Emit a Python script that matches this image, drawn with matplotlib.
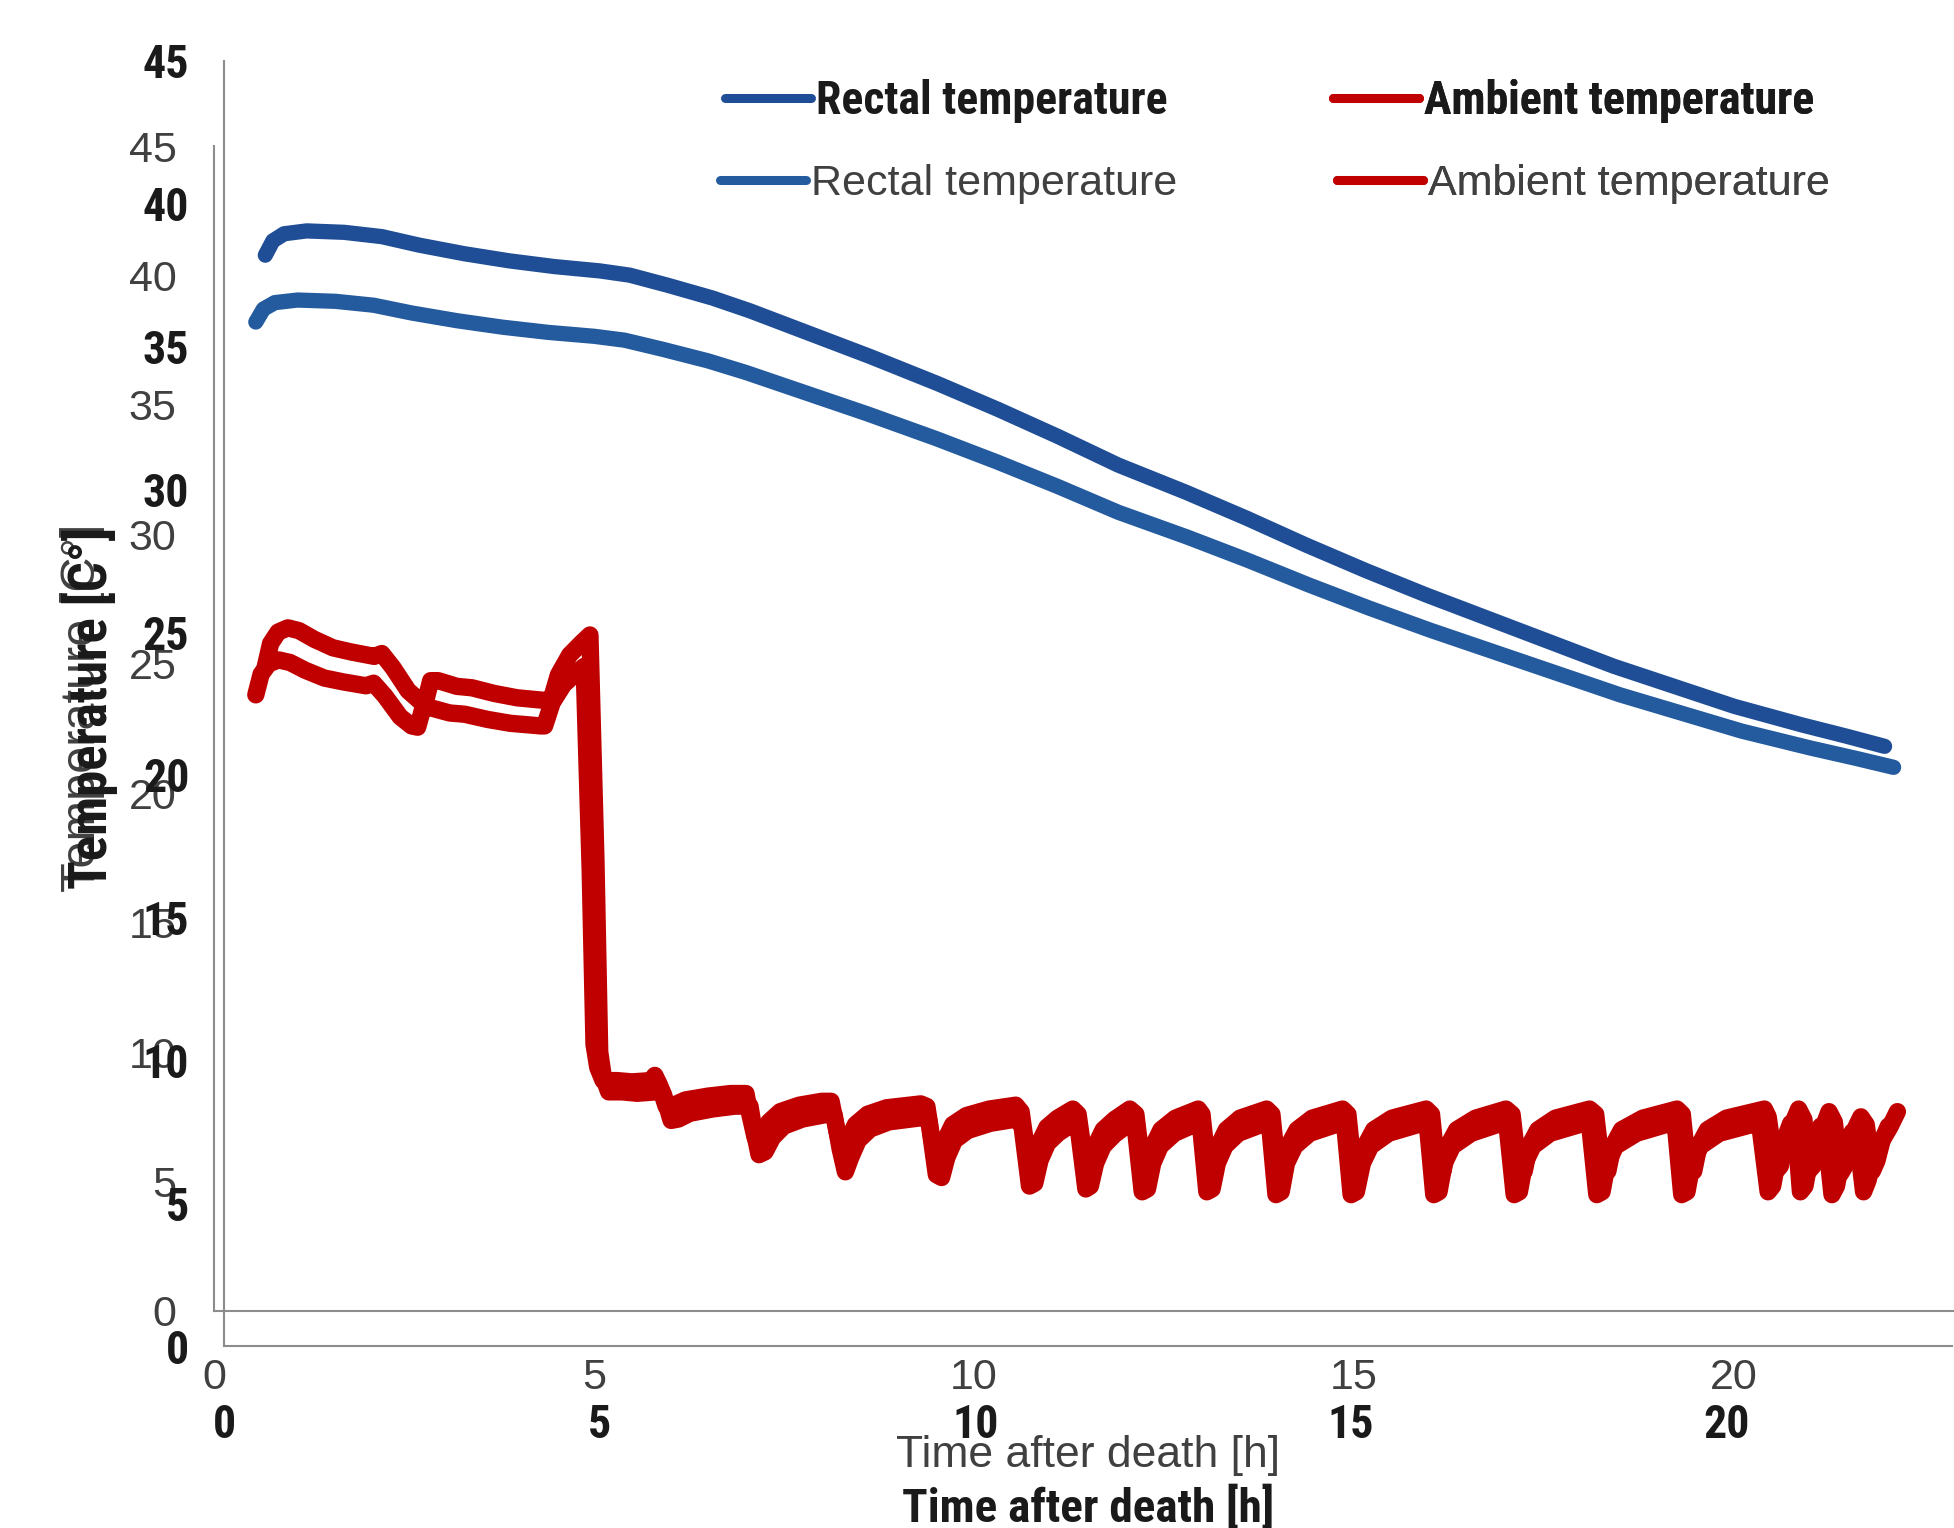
import matplotlib.pyplot as plt
from matplotlib import font_manager
from matplotlib.lines import Line2D

# rectal temperature (h after death, deg C)
rectal_h = [0.55, 0.65, 0.8, 1.1, 1.6, 2.1, 2.6, 3.2, 3.8, 4.4, 5.0, 5.4, 5.9, 6.5,
            7.0, 7.8, 8.6, 9.5, 10.3, 11.1, 11.9, 12.8, 13.6, 14.4, 15.2, 16.0,
            16.9, 17.7, 18.5, 19.3, 20.1, 21.0, 21.6, 22.1]
rectal_t = [38.2, 38.7, 38.95, 39.05, 39.0, 38.85, 38.55, 38.25, 38.0, 37.8, 37.65,
            37.5, 37.15, 36.7, 36.25, 35.45, 34.65, 33.7, 32.8, 31.85, 30.85, 29.9,
            29.0, 28.05, 27.15, 26.3, 25.4, 24.6, 23.8, 23.1, 22.4, 21.75, 21.35, 21.0]

# ambient temperature, first 6 hours
ambient_h = [0.55, 0.62, 0.72, 0.85, 1.0, 1.2, 1.45, 1.7, 2.0, 2.1, 2.25, 2.45, 2.6,
             2.68, 2.75, 2.85, 3.1, 3.3, 3.6, 3.9, 4.3, 4.35, 4.45, 4.6, 4.75, 4.87,
             4.95, 5.0, 5.05, 5.12, 5.3, 5.5, 5.75, 5.8, 5.85, 5.95, 6.05, 6.2, 6.5,
             6.8, 7.0]
ambient_t = [23.8, 24.6, 25.0, 25.15, 25.05, 24.75, 24.45, 24.3, 24.15, 24.25, 23.75,
             22.95, 22.6, 22.55, 23.3, 23.3, 23.1, 23.05, 22.85, 22.7, 22.6, 22.6, 23.5,
             24.2, 24.6, 24.9, 17.0, 10.3, 9.4, 8.9, 8.9, 8.85, 8.9, 9.1, 8.8, 7.9, 7.95,
             8.15, 8.3, 8.4, 8.4]
# cooling cycles afterwards: peak, trough and recovery points
ambient_h += [7.05, 7.12, 7.2, 7.3, 7.45, 7.7, 8.0, 8.12,
              8.2, 8.27, 8.34, 8.44, 8.6, 8.85, 9.3, 9.38,
              9.48, 9.55, 9.62, 9.72, 9.9, 10.2, 10.55, 10.62,
              10.72, 10.79, 10.86, 10.96, 11.1, 11.3, 11.37,
              11.47, 11.53, 11.6, 11.7, 11.85, 12.05, 12.13,
              12.22, 12.29, 12.36, 12.46, 12.65, 12.95, 13.0,
              13.08, 13.15, 13.22, 13.32, 13.5, 13.85, 13.92,
              14.0, 14.07, 14.14, 14.25, 14.45, 14.85, 14.92,
              15.0, 15.07, 15.15, 15.26, 15.5, 15.95, 16.02,
              16.1, 16.17, 16.24, 16.35, 16.6, 17.0, 17.08,
              17.17, 17.24, 17.31, 17.42, 17.65, 18.1, 18.18,
              18.27, 18.34, 18.41, 18.52, 18.8, 19.25, 19.32,
              19.4, 19.47, 19.54, 19.65, 19.9, 20.4, 20.45,
              20.55, 20.61, 20.68, 20.78, 20.85, 20.92,
              20.98, 21.04, 21.11, 21.2, 21.25, 21.32,
              21.4, 21.46, 21.53, 21.62, 21.67, 21.74,
              21.82, 21.88, 21.95, 22.05, 22.15]
ambient_t += [7.6, 6.7, 6.8, 7.3, 7.7, 7.95, 8.1, 8.1,
              6.9, 6.1, 6.6, 7.2, 7.6, 7.85, 8.0, 7.9,
              6.0, 5.9, 6.6, 7.2, 7.55, 7.8, 7.95, 7.7,
              5.6, 5.7, 6.5, 7.1, 7.45, 7.8, 7.6,
              5.5, 5.6, 6.4, 7.0, 7.4, 7.8, 7.6,
              5.4, 5.5, 6.4, 7.0, 7.45, 7.8, 7.6,
              5.4, 5.5, 6.4, 7.0, 7.45, 7.8, 7.6,
              5.3, 5.4, 6.4, 7.0, 7.45, 7.8, 7.6,
              5.3, 5.4, 6.4, 7.0, 7.45, 7.8, 7.6,
              5.3, 5.4, 6.4, 7.0, 7.45, 7.8, 7.6,
              5.3, 5.4, 6.4, 7.0, 7.45, 7.8, 7.6,
              5.3, 5.4, 6.4, 7.0, 7.45, 7.8, 7.6,
              5.3, 5.4, 6.4, 7.0, 7.45, 7.8, 7.5,
              5.4, 5.6, 6.6, 7.3, 7.8, 7.4,
              5.4, 5.6, 6.6, 7.3, 7.7, 7.3,
              5.3, 5.6, 6.6, 7.2, 7.5, 7.2,
              5.4, 5.8, 6.6, 7.1, 7.7]

x_ticks = [0, 5, 10, 15, 20]
y_ticks = [0, 5, 10, 15, 20, 25, 30, 35, 40, 45]
labels = ["Rectal temperature", "Ambient temperature"]

available = {f.name for f in font_manager.fontManager.ttflist}
bold_font, bold_size = "Liberation Sans", 29
for name, size in [("Liberation Sans Narrow", 34), ("Roboto Condensed", 33),
                   ("Arial Narrow", 34)]:
    if name in available:
        bold_font, bold_size = name, size
        break
reg_font, reg_size = "Liberation Sans", 31

W, H = 1954, 1528
fig = plt.figure(figsize=(W / 100, H / 100), dpi=100)

# the picture is two copies of the same chart laid over each other
copies = [
    dict(rect=[214 / W, (H - 1311) / H, 23 * 76.0 / W, 1165 / H],
         font=reg_font, size=reg_size, weight="normal", color="#404040",
         blue="#245a9e", ypad=27, xpad=34, xlab=(0.5, -0.124),
         ylab=(-0.0755, 0.5176), ylab_size=reg_size + 4,
         leg_y=1 - 184 / H, leg_x=(720 / W, 1337 / W)),
    dict(rect=[224 / W, (H - 1346) / H, 23 * 75.14 / W, 1285 / H],
         font=bold_font, size=bold_size, weight="bold", color="#1a1a1a",
         blue="#1f4e96", ypad=25, xpad=41, xlab=(0.5, -0.126),
         ylab=(-0.0775, 0.4965), ylab_size=bold_size + 5,
         leg_y=1 - 101 / H, leg_x=(725 / W, 1333 / W)),
]

for c in copies:
    ax = fig.add_axes(c["rect"])
    ax.patch.set_alpha(0)
    ax.plot(rectal_h, rectal_t, color=c["blue"], lw=11,
            solid_capstyle="round", solid_joinstyle="round")
    ax.plot(ambient_h, ambient_t, color="#c00000", lw=12.5,
            solid_capstyle="round", solid_joinstyle="round")
    ax.set_xlim(0, 23)
    ax.set_ylim(0, 45)
    ax.set_xticks(x_ticks)
    ax.set_yticks(y_ticks)
    for s in ["top", "right"]:
        ax.spines[s].set_visible(False)
    for s in ["left", "bottom"]:
        ax.spines[s].set_color("#8c8c8c")
        ax.spines[s].set_linewidth(1.5)
    ax.tick_params(axis="both", length=0, labelcolor=c["color"])
    ax.tick_params(axis="y", pad=c["ypad"])
    ax.tick_params(axis="x", pad=c["xpad"])
    for lab in ax.get_xticklabels() + ax.get_yticklabels():
        lab.set_fontfamily(c["font"])
        lab.set_fontsize(c["size"])
        lab.set_fontweight(c["weight"])
    fp = dict(family=c["font"], weight=c["weight"], color=c["color"])
    ax.set_xlabel("Time after death [h]", size=c["size"] + 1, **fp)
    ax.xaxis.set_label_coords(*c["xlab"])
    ax.xaxis.label.set_va("center")
    ax.set_ylabel("Temperature [C°]", size=c["ylab_size"], **fp)
    ax.yaxis.set_label_coords(*c["ylab"])
    ax.yaxis.label.set_va("center")

    # one legend per entry so each handle sits where the reference has it
    hl = 86 / (c["size"] * 100 / 72)
    colors = [c["blue"], "#c00000"]
    for i, (lbl, col) in enumerate(zip(labels, colors)):
        h = Line2D([], [], color=col, lw=6.5, solid_capstyle="round")
        leg = ax.legend([h], [lbl], frameon=False, loc="center left",
                        bbox_to_anchor=(c["leg_x"][i], c["leg_y"]),
                        bbox_transform=fig.transFigure,
                        borderpad=0, borderaxespad=0, handlelength=hl,
                        handletextpad=0.12,
                        prop=dict(family=c["font"], size=c["size"], weight=c["weight"]))
        for t in leg.get_texts():
            t.set_color(c["color"])
        ax.add_artist(leg)

fig.savefig("out.png", dpi=100)
